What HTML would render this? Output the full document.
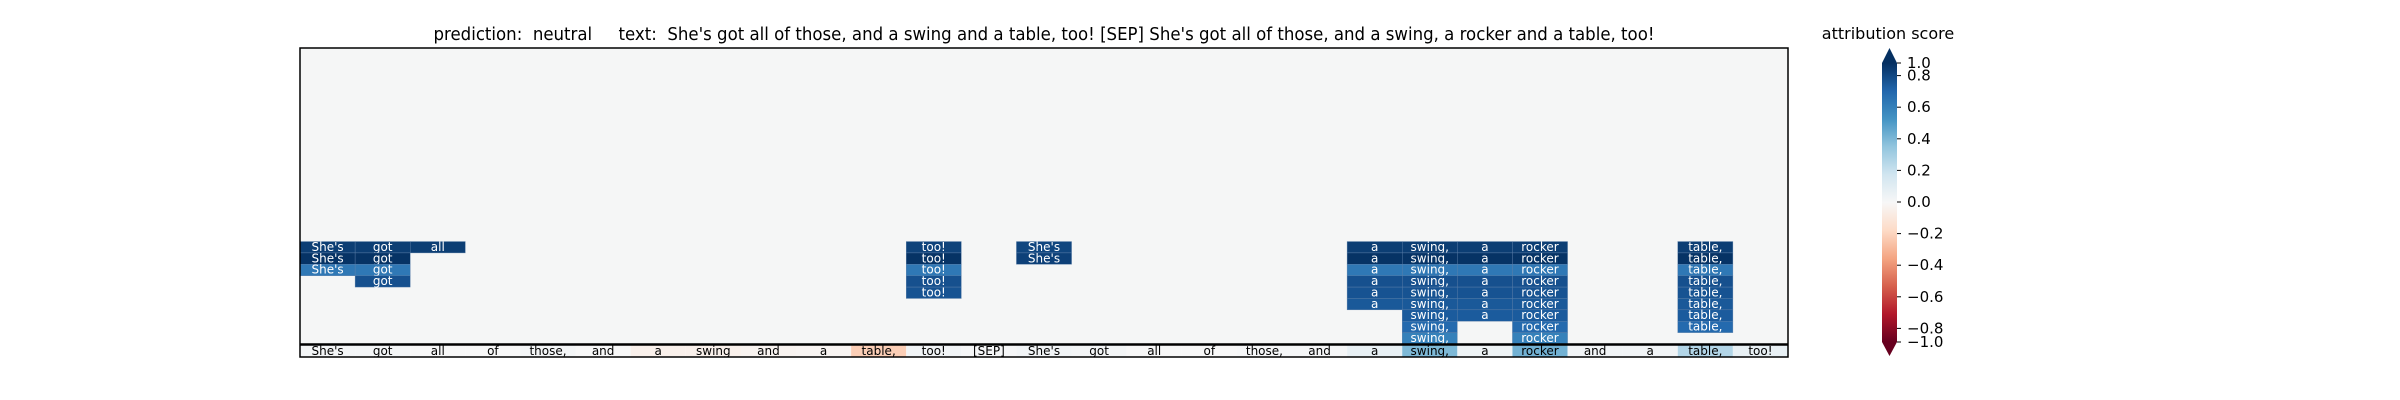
<!DOCTYPE html>
<html><head><meta charset="utf-8"><style>
html,body{margin:0;padding:0;background:#fff;width:2400px;height:400px;overflow:hidden}
svg text{font-family:"DejaVu Sans","Liberation Sans",sans-serif}
</style></head><body>
<svg id="chart" width="2400" height="400" viewBox="0 0 2400 400" xmlns="http://www.w3.org/2000/svg">
<defs>
<linearGradient id="cbgrad" x1="0" y1="1" x2="0" y2="0">
<stop offset="0" stop-color="#67001f"/><stop offset="0.1" stop-color="#b2182b"/><stop offset="0.2" stop-color="#d6604d"/><stop offset="0.3" stop-color="#f4a582"/><stop offset="0.4" stop-color="#fddbc7"/><stop offset="0.5" stop-color="#f7f7f7"/><stop offset="0.6" stop-color="#d1e5f0"/><stop offset="0.7" stop-color="#92c5de"/><stop offset="0.8" stop-color="#4393c3"/><stop offset="0.9" stop-color="#2166ac"/><stop offset="1" stop-color="#053061"/>
</linearGradient>
</defs>
<text x="1044" y="40" font-size="18" text-anchor="middle" textLength="1221" lengthAdjust="spacingAndGlyphs" xml:space="preserve">prediction:  neutral     text:  She's got all of those, and a swing and a table, too! [SEP] She's got all of those, and a swing, a rocker and a table, too!</text>
<rect x="300" y="48" width="1488" height="296" fill="#f5f6f6"/>
<g id="cells"></g>
<g id="bottom"></g>
<rect x="300" y="48" width="1488" height="309" fill="none" stroke="#000" stroke-width="1.5"/>
<line x1="300" y1="344.5" x2="1788" y2="344.5" stroke="#000" stroke-width="2.5"/>
<text x="1888" y="39" font-size="16" text-anchor="middle">attribution score</text>
<g id="colorbar"></g>
</svg>
<script>
const tokens = ["She's","got","all","of","those,","and","a","swing","and","a","table,","too!","[SEP]","She's","got","all","of","those,","and","a","swing,","a","rocker","and","a","table,","too!"];
const baseScores = [0.02,0.02,0.0,0.0,0.02,0.0,-0.05,-0.05,-0.03,-0.02,-0.25,0.03,0.01,0.03,0.02,0.0,0.0,0.01,0.01,0.08,0.45,0.05,0.48,0.03,0.03,0.3,0.08];
// attribution stacks: column index and values from the top row (row 17) downward
const stackCols = [0,1,2,11,13,19,20,21,22,25];
const stackVals = [
  [0.95,0.99,0.72],
  [0.95,0.99,0.72,0.88],
  [0.95],
  [0.93,0.99,0.72,0.88,0.87],
  [0.92,0.94],
  [0.95,0.99,0.72,0.88,0.87,0.85],
  [0.95,0.99,0.72,0.88,0.87,0.85,0.84,0.78,0.68],
  [0.95,0.99,0.72,0.88,0.87,0.85,0.84],
  [0.95,0.99,0.72,0.88,0.87,0.85,0.84,0.78,0.68],
  [0.95,0.99,0.72,0.88,0.87,0.85,0.84,0.78]
];
const cbTicks = [1.0,0.8,0.6,0.4,0.2,0.0,-0.2,-0.4,-0.6,-0.8,-1.0];
const cbLabels = ["1.0","0.8","0.6","0.4","0.2","0.0","\u22120.2","\u22120.4","\u22120.6","\u22120.8","\u22121.0"];

const stops=[[103,0,31],[178,24,43],[214,96,77],[244,165,130],[253,219,199],[247,247,247],[209,229,240],[146,197,222],[67,147,195],[33,102,172],[5,48,97]];
function cmap(v){v=Math.max(-1,Math.min(1,v));const t=(v+1)*5;const i=Math.min(9,Math.floor(t));const f=t-i;const a=stops[i],b=stops[i+1];return `rgb(${a.map((c,k)=>Math.round(c+(b[k]-c)*f)).join(',')})`;}
const NS="http://www.w3.org/2000/svg";
const X0=300,CW=1488/tokens.length,Y0=48,RH=296/26,TOPROW=17;
const xs=i=>X0+i*CW, ys=r=>Y0+r*RH;
function mk(tag,attrs,parent){const e=document.createElementNS(NS,tag);for(const k in attrs)e.setAttribute(k,attrs[k]);parent.appendChild(e);return e;}
const cells=document.getElementById('cells');
stackCols.forEach((c,si)=>{stackVals[si].forEach((v,k)=>{
  const r=TOPROW+k;
  const rect=mk('rect',{x:xs(c),y:ys(r),width:CW,height:RH,fill:cmap(v),stroke:'#5c7fa8','stroke-width':0.4},cells);
  
  
  const t=mk('text',{x:xs(c)+CW/2,y:ys(r)+RH-2,'font-size':12,'text-anchor':'middle',fill:'#fff'},cells);
  
  
  t.textContent=tokens[c];
});});
const bottom=document.getElementById('bottom');
tokens.forEach((tk,i)=>{
  const rect=mk('rect',{x:xs(i),y:345,width:CW,height:12,fill:cmap(baseScores[i])},bottom);
  
  
  const t=mk('text',{x:xs(i)+CW/2,y:355,'font-size':12,'text-anchor':'middle',fill:'#000'},bottom);
  
  
  t.textContent=tk;
});
const cb=document.getElementById('colorbar');
const CBX=1882,CBW=15,CBT=63,CBB=342;
const bar=mk('rect',{x:CBX,y:CBT,width:CBW,height:CBB-CBT,fill:'url(#cbgrad)'},cb);


const up=mk('polygon',{points:`${CBX},${CBT} ${CBX+CBW},${CBT} ${CBX+CBW/2},48`,fill:'#053061'},cb);


const dn=mk('polygon',{points:`${CBX},${CBB} ${CBX+CBW},${CBB} ${CBX+CBW/2},356`,fill:'#67001f'},cb);


function cby(v){if(v>=0.99)return CBT;if(v<=-0.99)return CBB;return 202-v*158;}
cbTicks.forEach((v,i)=>{
  const y=cby(v);
  const l=mk('line',{x1:CBX+CBW,x2:CBX+CBW+4,y1:y,y2:y,stroke:'#000','stroke-width':1},cb);
  
  
  const t=mk('text',{x:1907,y:y+5,'font-size':15,fill:'#000'},cb);
  
  
  t.textContent=cbLabels[i];
});
</script>
</body></html>
